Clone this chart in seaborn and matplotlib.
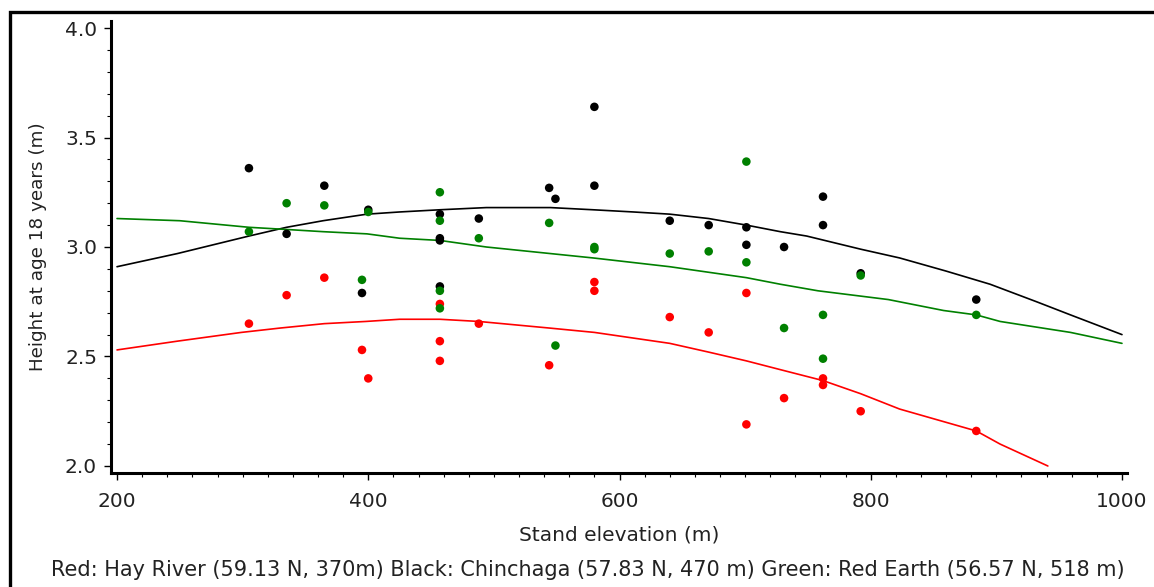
import numpy as np
import pandas as pd
import matplotlib
matplotlib.use("Agg")
import matplotlib.pyplot as plt
from matplotlib.patches import Rectangle
from matplotlib.ticker import MultipleLocator
import seaborn as sns

# Stand observations: elevation (m) and height at age 18 (m), by provenance
hay_elev = [305, 335, 365, 395, 400, 457, 457, 457, 488, 544, 580, 580,
            640, 671, 701, 701, 731, 762, 762, 792, 884]
hay_height = [2.65, 2.78, 2.86, 2.53, 2.40, 2.74, 2.57, 2.48, 2.65, 2.46, 2.84, 2.80,
              2.68, 2.61, 2.79, 2.19, 2.31, 2.40, 2.37, 2.25, 2.16]

chin_elev = [305, 335, 365, 395, 400, 457, 457, 457, 457, 488, 544, 549, 580, 580,
             640, 671, 701, 701, 731, 762, 762, 792, 884]
chin_height = [3.36, 3.06, 3.28, 2.79, 3.17, 3.15, 3.04, 3.03, 2.82, 3.13, 3.27, 3.22, 3.64, 3.28,
               3.12, 3.10, 3.09, 3.01, 3.00, 3.23, 3.10, 2.88, 2.76]

red_elev = [305, 335, 365, 395, 400, 457, 457, 457, 457, 488, 544, 549, 580, 580,
            640, 671, 701, 701, 731, 762, 762, 792, 884]
red_height = [3.07, 3.20, 3.19, 2.85, 3.16, 3.25, 3.12, 2.80, 2.72, 3.04, 3.11, 2.55, 2.99, 3.00,
              2.97, 2.98, 3.39, 2.93, 2.63, 2.69, 2.49, 2.87, 2.69]

# Fitted response curves (elevation, predicted height)
hay_fit_elev = [200, 248, 299, 330, 365, 398, 425, 457, 488, 544, 580, 640, 671, 701,
                728, 762, 792, 823, 884, 903, 941]
hay_fit_height = [2.53, 2.57, 2.61, 2.63, 2.65, 2.66, 2.67, 2.67, 2.66, 2.63, 2.61, 2.56, 2.52, 2.48,
                  2.44, 2.39, 2.33, 2.26, 2.16, 2.10, 2.00]

chin_fit_elev = [200, 248, 305, 335, 364, 399, 425, 457, 494, 545, 579, 611, 640, 671,
                 701, 728, 749, 792, 823, 860, 895, 932, 959, 1000]
chin_fit_height = [2.91, 2.97, 3.05, 3.09, 3.12, 3.15, 3.16, 3.17, 3.18, 3.18, 3.17, 3.16, 3.15, 3.13,
                   3.10, 3.07, 3.05, 2.99, 2.95, 2.89, 2.83, 2.75, 2.69, 2.60]

red_fit_elev = [200, 250, 305, 335, 364, 399, 425, 457, 494, 545, 579, 640, 701, 728,
                758, 814, 858, 884, 903, 959, 1000]
red_fit_height = [3.13, 3.12, 3.09, 3.08, 3.07, 3.06, 3.04, 3.03, 3.00, 2.97, 2.95, 2.91, 2.86, 2.83,
                  2.80, 2.76, 2.71, 2.69, 2.66, 2.61, 2.56]

x_ticks = [200, 400, 600, 800, 1000]
y_ticks = [2.0, 2.5, 3.0, 3.5, 4.0]

caption = ("Red: Hay River (59.13 N, 370m) Black: Chinchaga (57.83 N, 470 m) "
           "Green: Red Earth (56.57 N, 518 m)")

colors = {"Hay River": "#ff0000", "Chinchaga": "#000000", "Red Earth": "#008000"}

obs = pd.concat([
    pd.DataFrame({"elev": hay_elev, "height": hay_height, "site": "Hay River"}),
    pd.DataFrame({"elev": chin_elev, "height": chin_height, "site": "Chinchaga"}),
    pd.DataFrame({"elev": red_elev, "height": red_height, "site": "Red Earth"}),
], ignore_index=True)

fits = pd.concat([
    pd.DataFrame({"elev": hay_fit_elev, "height": hay_fit_height, "site": "Hay River"}),
    pd.DataFrame({"elev": chin_fit_elev, "height": chin_fit_height, "site": "Chinchaga"}),
    pd.DataFrame({"elev": red_fit_elev, "height": red_fit_height, "site": "Red Earth"}),
], ignore_index=True)

sns.set_style("ticks")
plt.rcParams["font.family"] = ["DejaVu Sans"]

text_color = "#222222"

fig = plt.figure(figsize=(11.54, 5.87), dpi=100)
ax = fig.add_axes([111 / 1154, 1 - 473 / 587, (1127 - 111) / 1154, (473 - 21) / 587])

sns.lineplot(data=fits, x="elev", y="height", hue="site", palette=colors,
             sort=False, estimator=None, linewidth=1.2, legend=False, ax=ax)
sns.scatterplot(data=obs, x="elev", y="height", hue="site", palette=colors,
                s=38, linewidth=0, legend=False, ax=ax, zorder=3)

ax.set_xlim(195.2, 1004)
ax.set_ylim(1.968, 4.032)
ax.set_xticks(x_ticks)
ax.set_xticklabels([str(v) for v in x_ticks])
ax.set_yticks(y_ticks)
ax.set_yticklabels([f"{v:.1f}" for v in y_ticks])
ax.xaxis.set_minor_locator(MultipleLocator(20))
ax.yaxis.set_minor_locator(MultipleLocator(0.1))

for side in ("top", "right"):
    ax.spines[side].set_visible(False)
for side in ("left", "bottom"):
    ax.spines[side].set_linewidth(2.2)
    ax.spines[side].set_color("black")

ax.tick_params(which="major", length=5, width=1.0, color="black",
               labelsize=14.5, labelcolor=text_color)
ax.tick_params(which="minor", length=3, width=0.8, color="black")
ax.tick_params(axis="x", which="major", pad=9)
ax.tick_params(axis="y", which="major", pad=5)

ax.set_xlabel("Stand elevation (m)", fontsize=14.5, color=text_color, labelpad=10)
ax.set_ylabel("Height at age 18 years (m)", fontsize=13.2, color=text_color, labelpad=13)

fig.text(588 / 1154, 1 - 570 / 587, caption, ha="center", va="center",
         fontsize=15.0, color=text_color)

# Outer frame around the figure
fig.patches.append(Rectangle((10 / 1154, -0.1), 1.2, 1 - 11.5 / 587 + 0.1,
                             transform=fig.transFigure, fill=False,
                             edgecolor="black", linewidth=2.4))

fig.savefig("out.png", dpi=100, facecolor="white")
